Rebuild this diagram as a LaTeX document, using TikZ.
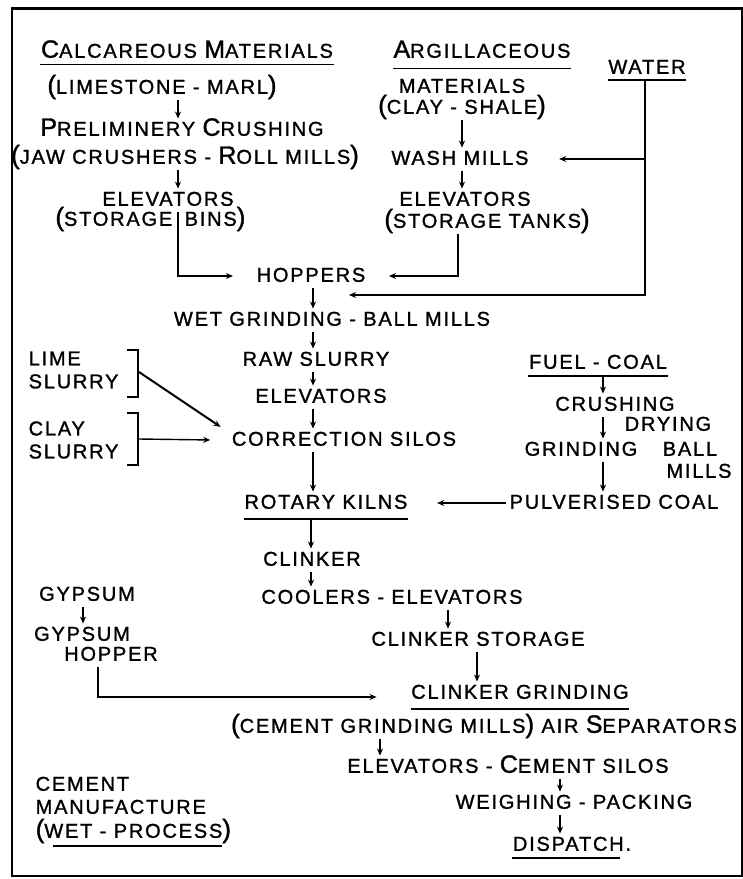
\documentclass[tikz,border=0pt]{standalone}
\usepackage{fontspec}
\setmainfont[LetterSpace=9,FakeBold=1.3]{Liberation Sans}
\usetikzlibrary{arrows.meta}
\newcommand\BC[1]{{\fontsize{25}{25}\selectfont #1}}
\newcommand\BP[1]{{\fontsize{26}{26}\selectfont #1}}
\newcommand\vflow[4][]{\draw[arr,#1] ([xshift=#3pt]#2.south) coordinate (tmpa) -- (tmpa |- #4.north);}
\begin{document}
\begin{tikzpicture}[x=1pt,y=-1pt,
 txt/.style={inner sep=0.5pt, text height=14.5pt, text depth=3pt, font=\fontsize{20}{22}\selectfont},
 mtxt/.style={inner sep=0.5pt, align=left, font=\fontsize{20}{23}\selectfont},
 arr/.style={line width=1.4pt, -{Stealth[length=7pt,width=6pt]}, shorten <=3pt, shorten >=2pt},
 bline/.style={line width=1.4pt},
 ul/.style={line width=1.5pt}]
\useasboundingbox (0,0) rectangle (743,879);
\draw[line width=2pt] (12,8) rectangle (742,876);
\draw[line width=3pt] (12,8) -- (742,8);

% left column
\node[txt] (calc) at (187,52) {\BC{C}ALCAREOUS \BC{M}ATERIALS};
\node[txt] (limes) at (162,88) {\BP{(}LIMESTONE - MARL\BP{)}};
\node[txt] (prelim) at (182,130) {\BC{P}RELIMINERY \BC{C}RUSHING};
\node[txt] (jaw) at (185,158) {\BP{(}JAW CRUSHERS - \BC{R}OLL MILLS\BP{)}};
\node[txt] (elev1) at (168,200) {ELEVATORS};
\node[txt, anchor=east] (binsL) at (173,220) {\BP{(}STORAGE};
\node[txt, anchor=west] (binsR) at (184,220) {BINS\BP{)}};
\node[txt] (hop) at (311,276) {HOPPERS};

% right column
\node[txt] (arg) at (482,52) {\BC{A}RGILLACEOUS};
\node[txt] (mat) at (462,87) {MATERIALS};
\node[txt] (clay) at (462,108) {\BP{(}CLAY - SHALE\BP{)}};
\node[txt] (wash) at (460,159) {WASH MILLS};
\node[txt] (elev2) at (465,200) {ELEVATORS};
\node[txt] (tanks) at (487,222) {\BP{(}STORAGE TANKS\BP{)}};
\node[txt] (water) at (647,68) {WATER};

% middle
\node[txt] (wet) at (332,320) {WET GRINDING - BALL MILLS};
\node[txt] (raw) at (316,360) {RAW SLURRY};
\node[txt] (elev3) at (321,397) {ELEVATORS};
\node[txt] (corr) at (344,440) {CORRECTION SILOS};
\node[txt] (kiln) at (326,503) {ROTARY KILNS};

% slurries
\node[mtxt, anchor=west] (limesl) at (28,370) {LIME\\SLURRY};
\node[mtxt, anchor=west] (claysl) at (28,440) {CLAY\\SLURRY};
\draw[bline] (127,350) -- (138,350) -- (138,397) -- (127,397);
\draw[bline] (127,413) -- (138,413) -- (138,465) -- (127,465);
\coordinate (limebr) at (139,372);
\coordinate (claybr) at (139,439);

% fuel
\node[txt] (fuel) at (598,363) {FUEL - COAL};
\node[txt] (crush) at (615,405) {CRUSHING};
\node[txt] (dry) at (668,425) {DRYING};
\node[txt] (grind) at (581,450) {GRINDING};
\node[txt] (ball) at (690,450) {BALL};
\node[txt] (mills) at (699,472) {MILLS};
\node[txt] (pulv) at (614,503) {PULVERISED COAL};

% lower
\node[txt] (clk) at (312,560) {CLINKER};
\node[txt] (cool) at (392,598) {COOLERS - ELEVATORS};
\node[txt] (cst) at (478,640) {CLINKER STORAGE};
\node[txt] (cgr) at (520,693) {CLINKER GRINDING};
\node[txt] (cml) at (484,727) {\BP{(}CEMENT GRINDING MILLS\BP{)} AIR \BC{S}EPARATORS};
\node[txt] (csil) at (508,767) {ELEVATORS - \BC{C}EMENT SILOS};
\node[txt] (wp) at (574,803) {WEIGHING - PACKING};
\node[txt] (disp) at (572,845) {DISPATCH.};
\node[txt] (gyp) at (87,595) {GYPSUM};
\node[txt] (gyph1) at (82,635) {GYPSUM};
\node[txt] (gyph2) at (111,655) {HOPPER};
\node[txt, anchor=west] (cm1) at (35,785) {CEMENT};
\node[txt, anchor=west] (cm2) at (35,808) {MANUFACTURE};
\node[txt, anchor=west] (cm3) at (35,832) {\BP{(}WET - PROCESS\BP{)}};

% underlines
\draw[ul] ([yshift=-3pt]calc.south west) -- ([yshift=-3pt]calc.south east);
\draw[ul] ([yshift=-7pt]arg.south west) -- ([yshift=-7pt]arg.south east);
\draw[ul] ([yshift=-2.5pt]water.south west) -- ([yshift=-2.5pt]water.south east);
\draw[ul] ([yshift=-6.5pt]kiln.south west) -- ([yshift=-6.5pt]kiln.south east);
\draw[ul] ([yshift=-3.5pt]fuel.south west) -- ([yshift=-3.5pt]fuel.south east);
\draw[ul] ([yshift=-6.5pt]cgr.south west) -- ([yshift=-6.5pt]cgr.south east);
\draw[ul] ([yshift=-3.5pt]disp.south west) -- ([shift={(-12pt,-3.5pt)}]disp.south east);
\draw[ul] ([shift={(18pt,-4.5pt)}]cm3.south west) -- ([shift={(-10pt,-4.5pt)}]cm3.south east);

% connectors
\vflow{limes}{16}{prelim}
\vflow{jaw}{-7}{elev1}
\draw[arr] ([xshift=10pt]elev1.south) |- ([xshift=-21pt]hop.west);
\vflow{clay}{0}{wash}
\vflow{wash}{2}{elev2}
\draw[arr] ([xshift=-29pt]tanks.south) |- ([xshift=21pt]hop.east);
\coordinate (wtip) at (347,295);
\draw[arr, shorten <=0pt] ([shift={(-2pt,-2.5pt)}]water.south) coordinate (wtop) |- (wtip);
\draw[arr, shorten <=0pt] (wtop |- wash) -- ([xshift=28pt]wash.east);
\vflow{hop}{2}{wet}
\vflow{wet}{-19}{raw}
\vflow{raw}{-3}{elev3}
\vflow{elev3}{-8}{corr}
\vflow{corr}{-31}{kiln}
\draw[arr, line width=2pt, shorten <=0pt] (limebr) -- ([shift={(-9pt,12pt)}]corr.west);
\draw[arr, shorten <=0pt] (claybr) -- ([xshift=-19pt]corr.west);
\vflow{fuel}{5}{crush}
\vflow{crush}{-12}{grind}
\vflow{grind}{22}{pulv}
\draw[arr] (pulv.west) -- ([xshift=27pt]kiln.east);
\vflow[shorten <=6.5pt]{kiln}{-15}{clk}
\vflow{clk}{-1}{cool}
\vflow{cool}{56}{cst}
\vflow[line width=2pt]{cst}{-1}{cgr}
\vflow{gyp}{-4}{gyph1}
\draw[arr] ([xshift=-13pt]gyph2.south) |- ([shift={(-32pt,-4pt)}]cgr.west);
\vflow{cml}{-104}{csil}
\vflow{csil}{52}{wp}
\vflow{wp}{-14}{disp}
\end{tikzpicture}
\end{document}
